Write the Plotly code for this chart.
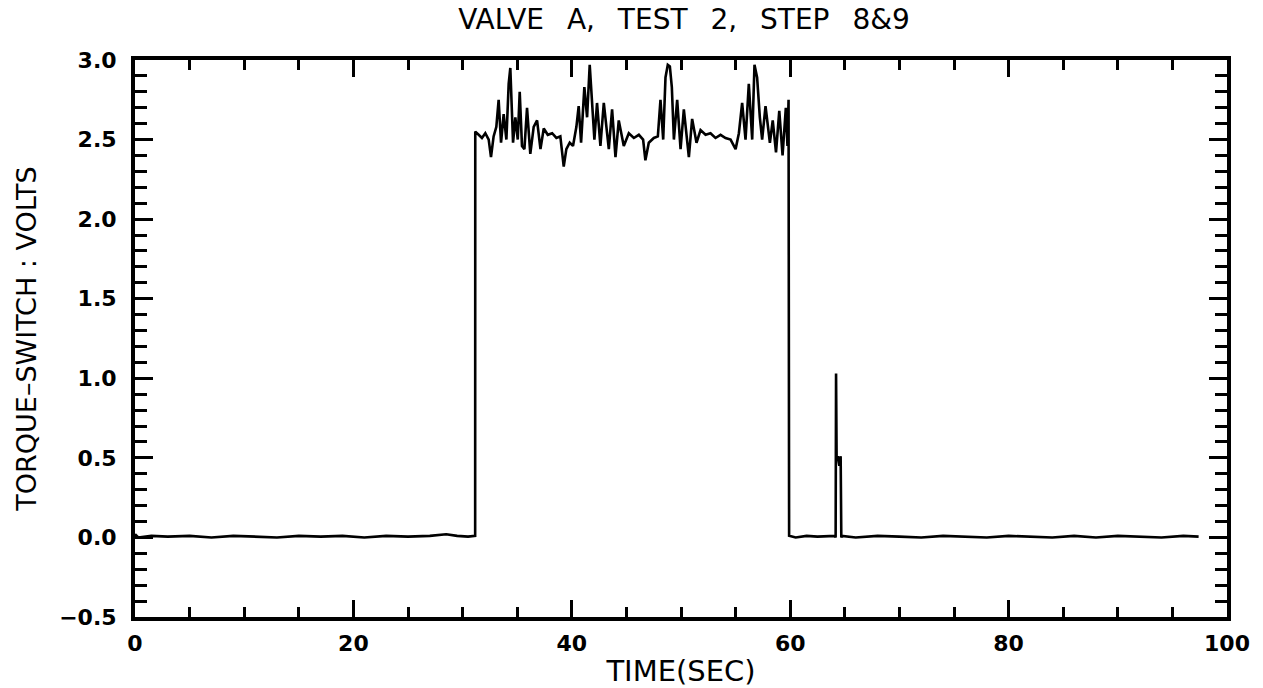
import plotly.graph_objects as go

# ---- data ----
time_pre = [0.0, 0.3, 1.5, 3.0, 5.0, 7.0, 9.0, 11.0, 13.0, 15.0, 17.0, 19.0, 21.0,
            23.0, 25.0, 27.0, 28.5, 29.5, 30.5, 31.15]
volt_pre = [0.02, 0.0, 0.01, 0.005, 0.01, 0.0, 0.01, 0.005, 0.0, 0.01, 0.005, 0.01, 0.0,
            0.01, 0.005, 0.01, 0.02, 0.01, 0.005, 0.01]

time_on = [31.16, 31.47, 31.77, 32.08, 32.39, 32.60, 32.84, 33.09, 33.30, 33.52,
           33.76, 34.01, 34.22, 34.37, 34.62, 34.83, 35.05, 35.23, 35.44, 35.66,
           35.90, 36.20, 36.51, 36.82, 37.13, 37.43, 37.80, 38.20, 38.59, 38.95,
           39.26, 39.50, 39.81, 40.11, 40.42, 40.63, 40.85, 41.15, 41.40, 41.64,
           41.85, 42.07, 42.31, 42.62, 42.93, 43.39, 43.69, 44.00, 44.30, 44.76,
           45.22, 45.68, 46.14, 46.53, 46.74, 47.05, 47.51, 47.88, 48.12, 48.37,
           48.58, 48.79, 48.98, 49.16, 49.35, 49.65, 49.96, 50.26, 50.72, 51.02,
           51.42, 51.79, 52.25, 52.70, 53.16, 53.62, 54.08, 54.54, 55.00, 55.30,
           55.60, 55.91, 56.21, 56.52, 56.73, 56.97, 57.22, 57.43, 57.74, 58.14,
           58.40, 58.70, 59.00, 59.30, 59.60, 59.75, 59.85]
volt_on = [2.55, 2.53, 2.51, 2.54, 2.50, 2.39, 2.52, 2.58, 2.75, 2.48,
           2.66, 2.50, 2.85, 2.95, 2.48, 2.64, 2.50, 2.80, 2.46, 2.44,
           2.70, 2.41, 2.58, 2.62, 2.44, 2.57, 2.53, 2.54, 2.51, 2.52,
           2.33, 2.44, 2.48, 2.46, 2.58, 2.71, 2.48, 2.83, 2.64, 2.97,
           2.75, 2.50, 2.73, 2.46, 2.73, 2.44, 2.69, 2.39, 2.62, 2.46,
           2.54, 2.51, 2.53, 2.50, 2.37, 2.48, 2.51, 2.52, 2.75, 2.50,
           2.89, 2.97, 2.96, 2.83, 2.50, 2.75, 2.44, 2.69, 2.39, 2.63,
           2.48, 2.56, 2.53, 2.54, 2.51, 2.53, 2.51, 2.50, 2.44, 2.54,
           2.73, 2.50, 2.85, 2.50, 2.97, 2.89, 2.64, 2.50, 2.71, 2.48,
           2.62, 2.42, 2.68, 2.40, 2.70, 2.46, 2.75]

time_post = [59.9, 60.5, 61.5, 62.5, 63.5, 64.1, 64.16, 64.2, 64.25, 64.35, 64.5,
             64.62, 64.68, 64.75, 66.0, 68.0, 70.0, 72.0, 74.0, 76.0, 78.0, 80.0,
             82.0, 84.0, 86.0, 88.0, 90.0, 92.0, 94.0, 96.0, 97.4]
volt_post = [0.01, 0.0, 0.01, 0.005, 0.01, 0.01, 0.0, 1.03, 0.50, 0.51, 0.45,
             0.51, 0.0, 0.01, 0.0, 0.01, 0.005, 0.0, 0.01, 0.005, 0.0, 0.01,
             0.005, 0.0, 0.01, 0.0, 0.01, 0.005, 0.0, 0.01, 0.005]

time_s = time_pre + time_on + time_post
volts = volt_pre + volt_on + volt_post

x_ticks = [0, 20, 40, 60, 80, 100]
y_ticks = [-0.5, 0.0, 0.5, 1.0, 1.5, 2.0, 2.5, 3.0]
y_tick_text = ["\u22120.5", "0.0", "0.5", "1.0", "1.5", "2.0", "2.5", "3.0"]

title_text = "VALVE\u2002 A,\u2002 TEST\u2002 2,\u2002 STEP\u2002 8&amp;9"

fig = go.Figure()
fig.add_trace(go.Scatter(x=time_s, y=volts, mode="lines",
                         line=dict(color="black", width=2.6), showlegend=False,
                         hoverinfo="skip"))

tick_font = dict(family="DejaVu Sans", size=22, color="black", weight="bold")
lab_font = dict(family="DejaVu Sans", size=29, color="black")

fig.update_layout(
    width=1263, height=688,
    paper_bgcolor="white", plot_bgcolor="white",
    margin=dict(l=135, r=36, t=60, b=71),
    title=dict(text=title_text, x=684 / 1263, xanchor="center", xref="container",
               y=1 - 19 / 688, yanchor="middle", yref="container",
               font=dict(family="DejaVu Sans", size=28, color="black")),
)
fig.update_xaxes(
    range=[0, 100], tickvals=x_ticks, ticktext=[str(v) for v in x_ticks],
    showgrid=False, zeroline=False, automargin=False,
    showline=True, linecolor="black", linewidth=4, mirror="ticks",
    ticks="inside", ticklen=17, tickwidth=3, tickcolor="black",
    minor=dict(dtick=5, ticks="inside", ticklen=10, tickwidth=3, tickcolor="black", showgrid=False),
    tickfont=tick_font, ticklabelstandoff=4,
    title=dict(text="TIME(SEC)", font=lab_font, standoff=7),
)
fig.update_yaxes(
    range=[-0.5, 3.0], tickvals=y_ticks, ticktext=y_tick_text,
    showgrid=False, zeroline=False, automargin=False,
    showline=True, linecolor="black", linewidth=4, mirror="ticks",
    ticks="inside", ticklen=18, tickwidth=3, tickcolor="black",
    minor=dict(dtick=0.1, tick0=0, ticks="inside", ticklen=12, tickwidth=3, tickcolor="black", showgrid=False),
    tickfont=tick_font, ticklabelstandoff=10,
    title=dict(text="TORQUE\u2013SWITCH : VOLTS", font=dict(family="DejaVu Sans", size=27, color="black"), standoff=16),
)

fig.write_html("out.html", config={"displayModeBar": False},
               post_script="document.body.style.margin='0';")
